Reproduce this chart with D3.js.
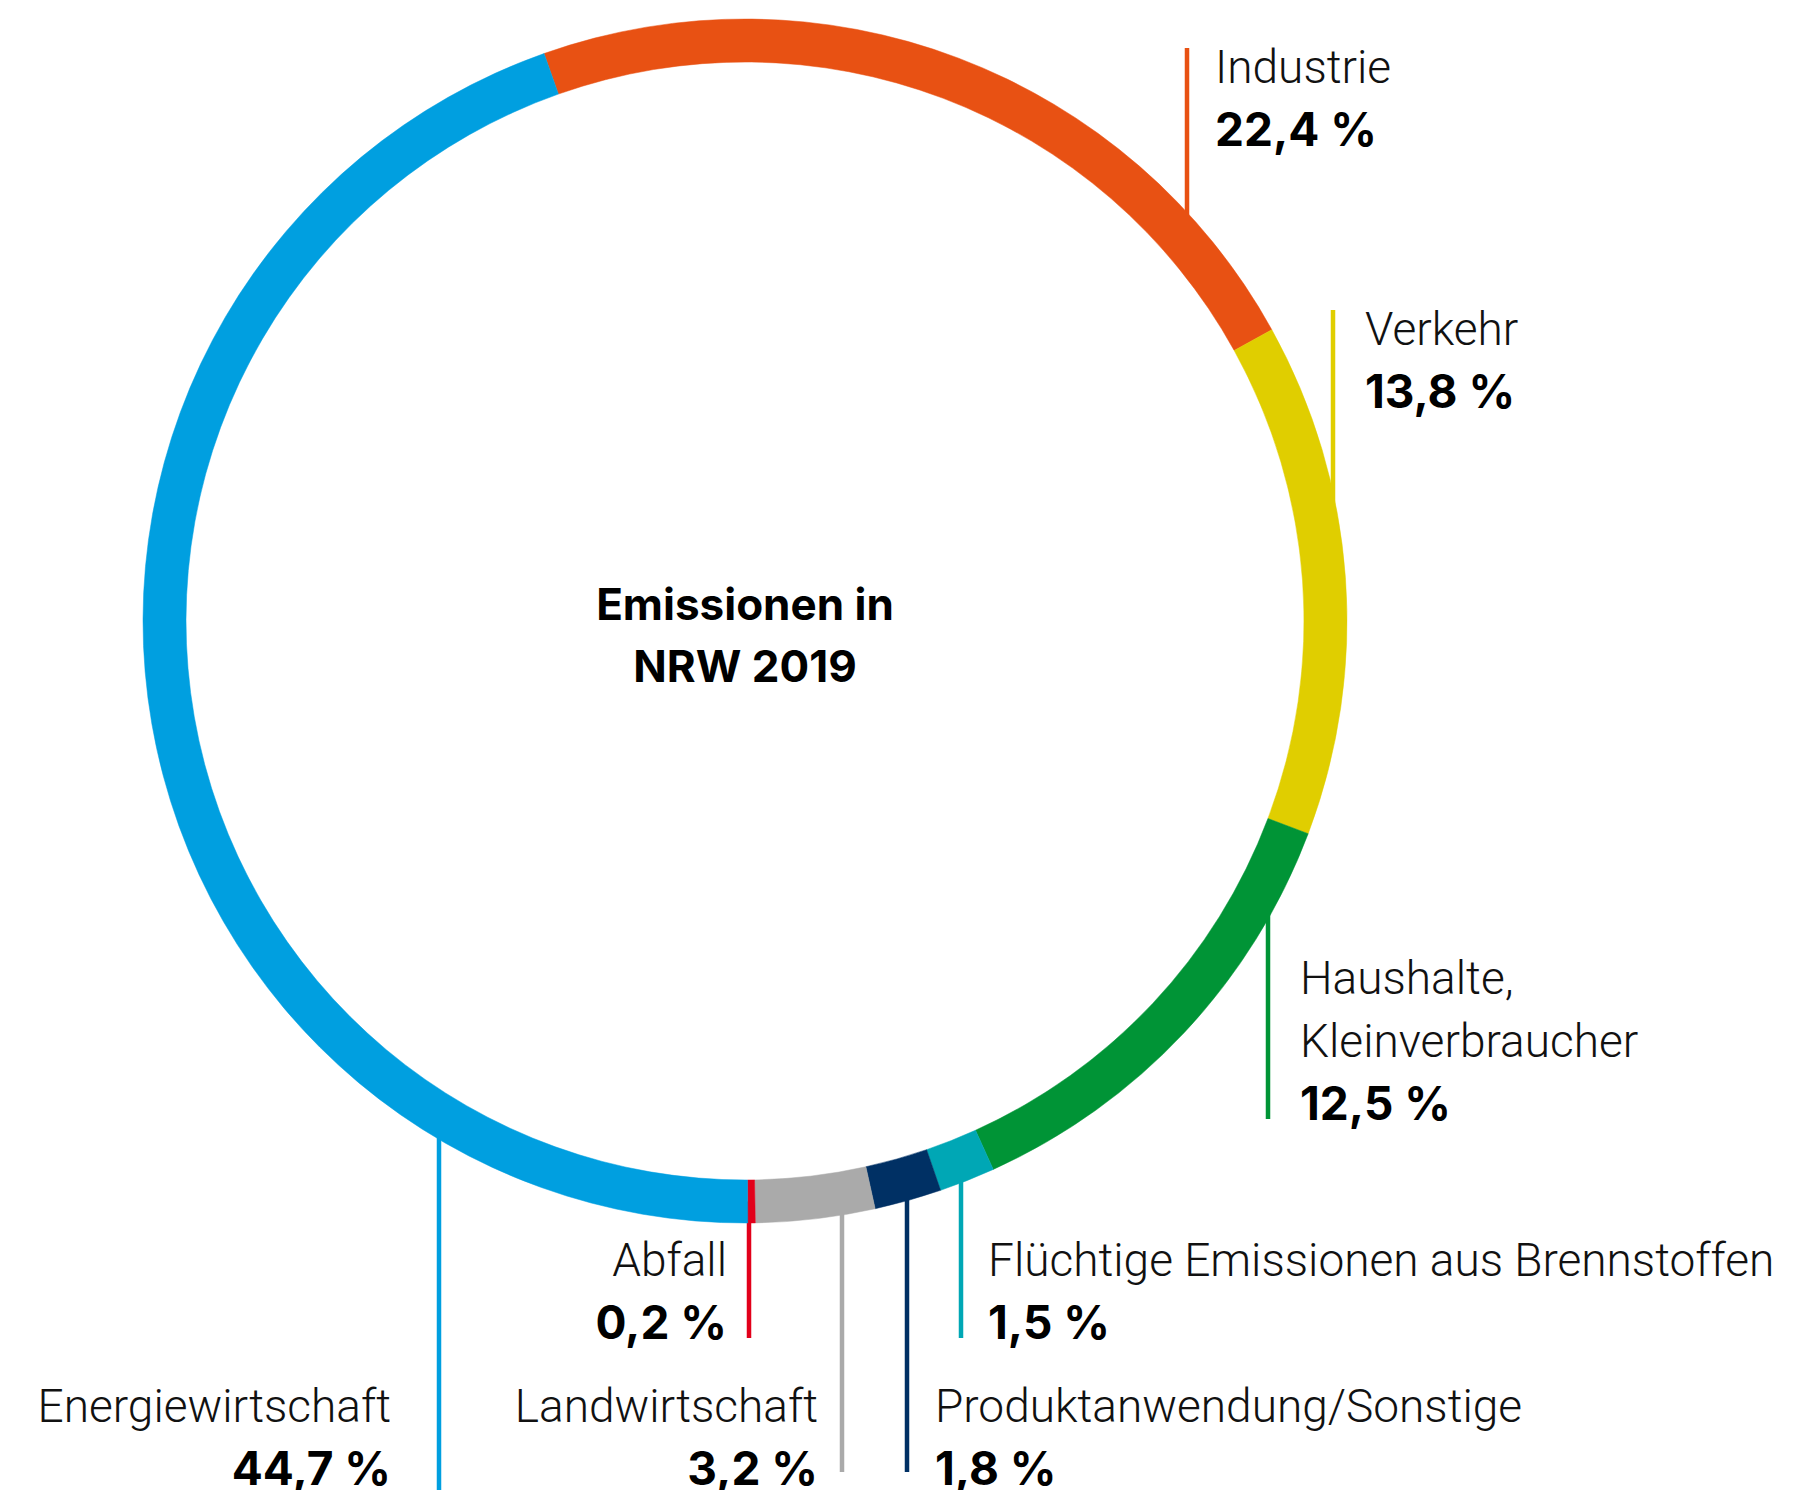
<!DOCTYPE html>
<html>
<head>
<meta charset="utf-8">
<script src="https://cdn.jsdelivr.net/npm/d3@7"></script>
<style>
  body { margin: 0; background: #fff; }
  .label { font-family: Roboto, "Liberation Sans", sans-serif; font-weight: 300; font-size: 46px; fill: #111; }
  .value { font-family: Inter, Roboto, sans-serif; font-weight: 700; font-size: 46px; fill: #000; }
  .title { font-family: Inter, Roboto, sans-serif; font-weight: 700; font-size: 44px; fill: #000; }
</style>
</head>
<body>
<svg id="chart"></svg>
<script>
const categories = [
  "Industrie",
  "Verkehr",
  "Haushalte, Kleinverbraucher",
  "Flüchtige Emissionen aus Brennstoffen",
  "Produktanwendung/Sonstige",
  "Landwirtschaft",
  "Abfall",
  "Energiewirtschaft"
];
const shares = [22.4, 13.8, 12.5, 1.5, 1.8, 3.2, 0.2, 44.7];
const colors = ["#e85113", "#e0ce00", "#009436", "#00a7b5", "#003064", "#aaaaaa", "#e2001a", "#009fe0"];
const labelLines = [
  ["Industrie"],
  ["Verkehr"],
  ["Haushalte,", "Kleinverbraucher"],
  ["Flüchtige Emissionen aus Brennstoffen"],
  ["Produktanwendung/Sonstige"],
  ["Landwirtschaft"],
  ["Abfall"],
  ["Energiewirtschaft"]
];
const titleLines = ["Emissionen in", "NRW 2019"];

const width = 1819;
const height = 1490;
const cx = 745;
const cy = 621;
const outerR = 602;
const innerR = 559;
const startDeg = -19.5;
const lineH = 63;

// leader line x, where the line ends away from the ring, text placement
const layout = [
  { lx: 1187, ly: 48, tx: 1215, ty: 83, anchor: "start" },
  { lx: 1333, ly: 310, tx: 1365, ty: 345, anchor: "start" },
  { lx: 1268, ly: 1119, tx: 1300, ty: 994, anchor: "start" },
  { lx: 961, ly: 1338, tx: 988, ty: 1276, anchor: "start" },
  { lx: 907, ly: 1472, tx: 935, ty: 1422, anchor: "start" },
  { lx: 842, ly: 1472, tx: 818, ty: 1422, anchor: "end" },
  { lx: 749, ly: 1338, tx: 727, ty: 1276, anchor: "end" },
  { lx: 439, ly: 1490, tx: 391, ty: 1422, anchor: "end" }
];

const fmt = (v) => d3.format(".1f")(v).replace(".", ",") + " %";

const svg = d3.select("#chart").attr("width", width).attr("height", height);

const a0 = (startDeg * Math.PI) / 180;
const pie = d3.pie().sort(null).value((d) => d).startAngle(a0).endAngle(a0 + 2 * Math.PI);
const arc = d3.arc().innerRadius(innerR).outerRadius(outerR);
const arcs = pie(shares);

// leader lines, drawn under the ring
const midR = (innerR + outerR) / 2;
svg
  .append("g")
  .selectAll("line")
  .data(layout)
  .enter()
  .append("line")
  .attr("x1", (d) => d.lx)
  .attr("x2", (d) => d.lx)
  .attr("y1", (d) => d.ly)
  .attr("y2", (d) => {
    const dx = d.lx - cx;
    const h = Math.sqrt(Math.max(0, midR * midR - dx * dx));
    return d.ly < cy ? cy - h : cy + h;
  })
  .attr("stroke", (d, i) => colors[i])
  .attr("stroke-width", 4.5);

svg
  .append("g")
  .attr("transform", `translate(${cx},${cy})`)
  .selectAll("path")
  .data(arcs)
  .enter()
  .append("path")
  .attr("d", arc)
  .attr("fill", (d, i) => colors[i])
  .attr("stroke", (d, i) => colors[i])
  .attr("stroke-width", 0.5);

// labels
const labels = svg.append("g");
layout.forEach((d, i) => {
  const lines = labelLines[i];
  lines.forEach((t, j) => {
    labels
      .append("text")
      .attr("class", "label")
      .attr("x", d.tx)
      .attr("y", d.ty + j * lineH)
      .attr("text-anchor", d.anchor)
      .text(t);
  });
  labels
    .append("text")
    .attr("class", "value")
    .attr("x", d.tx)
    .attr("y", d.ty + lines.length * lineH)
    .attr("text-anchor", d.anchor)
    .text(fmt(shares[i]));
});

svg
  .append("g")
  .selectAll("text")
  .data(titleLines)
  .enter()
  .append("text")
  .attr("class", "title")
  .attr("x", cx)
  .attr("y", (d, i) => 620 + i * 62)
  .attr("text-anchor", "middle")
  .text((d) => d);
</script>
</body>
</html>
